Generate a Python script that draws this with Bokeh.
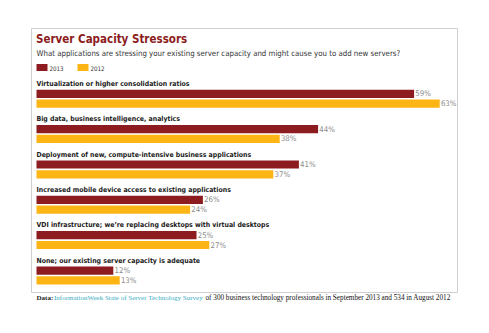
from bokeh.plotting import figure
from bokeh.models import Range1d, ColumnDataSource
from bokeh.core.properties import value
from bokeh.transform import dodge
from bokeh.embed import file_html
from bokeh.resources import INLINE

categories = [
    "Virtualization or higher consolidation ratios",
    "Big data, business intelligence, analytics",
    "Deployment of new, compute-intensive business applications",
    "Increased mobile device access to existing applications",
    "VDI infrastructure; we\u2019re replacing desktops with virtual desktops",
    "None; our existing server capacity is adequate",
]
values_2013 = [59, 44, 41, 26, 25, 12]
values_2012 = [63, 38, 37, 24, 27, 13]
series_names = ["2013", "2012"]

TITLE = "Server Capacity Stressors"
SUBTITLE = "What applications are stressing your existing server capacity and might cause you to add new servers?"
FOOT_A = "Data:"
FOOT_B = "InformationWeek State of Server Technology Survey"
FOOT_C = "of 300 business technology professionals in September 2013 and 534 in August 2012"

C2013 = "#8c1c20"
C2012 = "#fdb515"
TITLE_C = "#8c1c20"
NARROW = value("'DejaVu Sans Condensed', 'Liberation Sans Narrow', 'Open Sans', sans-serif")
SERIF = value("'Liberation Serif', serif")

W, H = 489, 333
k = 6.4           # px per percent
x0 = 36           # px of zero
px = 1.0 / k      # one pixel in data units

p = figure(width=W, height=H, output_backend="svg", toolbar_location=None,
           x_range=Range1d(-x0 / k, (W - x0) / k), y_range=Range1d(H, 0),
           min_border=0, min_border_left=0, min_border_right=0,
           min_border_top=0, min_border_bottom=0)
p.axis.visible = False
p.grid.visible = False
p.outline_line_color = None
p.background_fill_color = "white"
p.border_fill_color = "white"

def X(pixel):
    return (pixel - x0) / k

# frame
p.quad(left=[X(31)], right=[X(457)], top=[28], bottom=[292],
       fill_color=None, line_color="#cfcfcf", line_width=1)

# title & subtitle
p.text(x=[X(35.5)], y=[38.5], text=[TITLE], text_font=NARROW, text_font_style="bold",
       text_font_size="11.5px", text_color=TITLE_C, text_baseline="middle")
p.text(x=[X(36)], y=[52.5], text=[SUBTITLE], text_font=NARROW,
       text_font_size="7.8px", text_color="#333333", text_baseline="middle")

# legend
for i, (name, col) in enumerate(zip(series_names, [C2013, C2012])):
    lx = 36 + i * 41
    p.quad(left=[X(lx)], right=[X(lx + 11)], top=[63.5], bottom=[70.5],
           fill_color=col, line_color=None)
    p.text(x=[X(lx + 13)], y=[67.5], text=[name], text_font=NARROW,
           text_font_size="6.2px", text_color="#333333", text_baseline="middle")

pitch = 35.35
label_y = [83.5 + pitch * i for i in range(len(categories))]
y13 = [y + 9.8 for y in label_y]
y12 = [y + 19.6 for y in label_y]
bh = 8.2

src = ColumnDataSource(dict(cat=categories, ly=label_y, y13=y13, y12=y12,
                            v13=values_2013, v12=values_2012,
                            t13=[f"{v}%" for v in values_2013],
                            t12=[f"{v}%" for v in values_2012]))

p.text(x=0, y="ly", text="cat", source=src, text_font=NARROW, text_font_style="bold",
       text_font_size="6.9px", text_color="#1a1a1a", text_baseline="middle")
p.hbar(y="y13", right="v13", left=0, height=bh, source=src, fill_color=C2013, line_color=None)
p.hbar(y="y12", right="v12", left=0, height=bh, source=src, fill_color=C2012, line_color=None)

p.text(x=dodge("v13", 1.2 * px), y="y13", text="t13", source=src, text_font=NARROW,
       text_font_size="7.8px", text_color="#8d8d8d", text_baseline="middle")
p.text(x=dodge("v12", 1.2 * px), y="y12", text="t12", source=src, text_font=NARROW,
       text_font_size="7.8px", text_color="#8d8d8d", text_baseline="middle")

# footer
p.text(x=[X(36)], y=[297.5], text=[FOOT_A], text_font=SERIF, text_font_style="bold",
       text_font_size="7px", text_color="#222222", text_baseline="middle")
p.text(x=[X(53.5)], y=[297.5], text=[FOOT_B], text_font=SERIF,
       text_font_size="7px", text_color="#3aaec4", text_baseline="middle")
p.text(x=[X(205)], y=[297.5], text=[FOOT_C], text_font=SERIF,
       text_font_size="7.2px", text_color="#111111", text_baseline="middle")

open("out.html", "w").write(file_html(p, INLINE))
